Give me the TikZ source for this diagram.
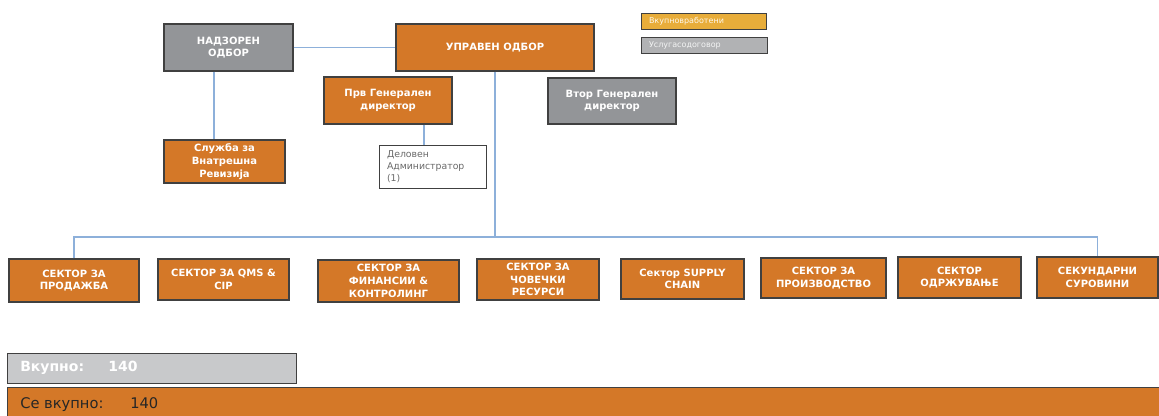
\documentclass[tikz,border=0pt]{standalone}
\usepackage{fontspec}
\setmainfont{DejaVu Sans}
\usepackage{tikz}
\usetikzlibrary{calc}
\definecolor{orgfill}{HTML}{D47828}
\definecolor{grayfill}{HTML}{939598}
\definecolor{legorg}{HTML}{E8AD3A}
\definecolor{leggray}{HTML}{B1B2B4}
\definecolor{totgray}{HTML}{C8C9CB}
\definecolor{boxline}{HTML}{404040}
\definecolor{linecol}{HTML}{8DB0DA}
\definecolor{deltext}{HTML}{6A6A6A}
\tikzset{every picture/.append style={x=0.75pt,y=-0.75pt}}
\tikzset{size/.style 2 args={minimum width=#1*0.75pt, minimum height=#2*0.75pt}}
\tikzset{obox/.style={draw=boxline, fill=orgfill, text=white, line width=0.9pt, inner sep=0pt, align=center, font=\fontsize{7.5}{9.5}\selectfont\bfseries}}
\tikzset{gbox/.style={obox, fill=grayfill}}
\tikzset{legbox/.style={draw=boxline, line width=0.6pt, inner sep=0pt, align=left, text width=#1*0.75pt, font=\fontsize{6}{7}\selectfont}}
\tikzset{totbar/.style={draw=boxline, line width=0.9pt, inner sep=0pt}}
\tikzset{conn/.style={line width=1pt, linecol}}

\begin{document}
\begin{tikzpicture}
  \useasboundingbox (0,0) rectangle (1159,415);

  % top level
  \node (nad) at (228.5,47.5)[gbox, size={129}{47}]{НАДЗОРЕН\\ОДБОР};
  \node (upr) at (495,47.5)[obox, size={198}{47}]{УПРАВЕН ОДБОР};
  \node (prv) at (388,100.5)[obox, size={128}{47}]{Прв Генерален\\директор};
  \node (vtor) at (612,101)[gbox, size={128}{46}]{Втор Генерален\\директор};
  \node (sluz) at (224.5,161.5)[obox, size={121}{43}]{Служба за\\Внатрешна\\Ревизија};
  \node (del) at (432.5,166.5)[draw=boxline, fill=white, line width=0.6pt, inner sep=0pt, size={107}{43}, text=deltext, align=left, text width=91*0.75pt, font=\fontsize{7}{9.2}\selectfont]{Деловен\\Администратор\\(1)};

  % legend
  \node (leg1) at (703.5,21)[legbox=109, fill=legorg, size={125}{16}, text=white!90!legorg]{Вкупновработени};
  \node (leg2) at (704,45)[legbox=110, fill=leggray, size={126}{16}, text=white!85!leggray]{Услугасодоговор};

  % sectors
  \node (s1) at (74,280.5)[obox, size={130}{43}]{СЕКТОР ЗА\\ПРОДАЖБА};
  \node (s2) at (223.5,279.5)[obox, size={131}{41}]{СЕКТОР ЗА QMS \&\\CIP};
  \node (s3) at (388.5,281)[obox, size={141}{42}]{СЕКТОР ЗА\\ФИНАНСИИ \&\\КОНТРОЛИНГ};
  \node (s4) at (538,279.5)[obox, size={122}{41}]{СЕКТОР ЗА\\ЧОВЕЧКИ\\РЕСУРСИ};
  \node (s5) at (682.5,279)[obox, size={123}{40}]{Сектор SUPPLY\\CHAIN};
  \node (s6) at (823.5,278)[obox, size={125}{40}]{СЕКТОР ЗА\\ПРОИЗВОДСТВО};
  \node (s7) at (959.5,277.5)[obox, size={123}{41}]{СЕКТОР\\ОДРЖУВАЊЕ};
  \node (s8) at (1097.5,277.5)[obox, size={121}{41}]{СЕКУНДАРНИ\\СУРОВИНИ};

  % totals
  \node (tot1) at (7,353)[totbar, fill=totgray, anchor=north west, size={289}{30}]{};
  \node (tot1txt) at (20,368)[anchor=west, inner sep=0pt, text=white, font=\fontsize{10.5}{12}\selectfont\bfseries]{\makebox[66pt][l]{Вкупно:}140};
  \node (tot2) at (7,387)[totbar, fill=orgfill, anchor=north west, size={1170}{40}]{};
  \node (tot2txt) at (20,405)[anchor=west, inner sep=0pt, text=black!85, font=\fontsize{11}{13}\selectfont]{\makebox[82.5pt][l]{Се вкупно:}140};

  % connectors
  \coordinate (bus) at (0,237);
  \coordinate (nadout) at ($(nad.south)+(-14.5,0)$);
  \coordinate (prvout) at ($(prv.south)+(36,0)$);
  \draw[conn] (nad.east) -- (upr.west);
  \draw[conn] (nadout) -- (nadout |- sluz.north);
  \draw[conn] (prvout) -- (prvout |- del.north);
  \draw[conn] (upr.south) -- (upr.south |- bus);
  \draw[conn] (s1.north) |- (s8.north |- bus) -- (s8.north);
\end{tikzpicture}
\end{document}
